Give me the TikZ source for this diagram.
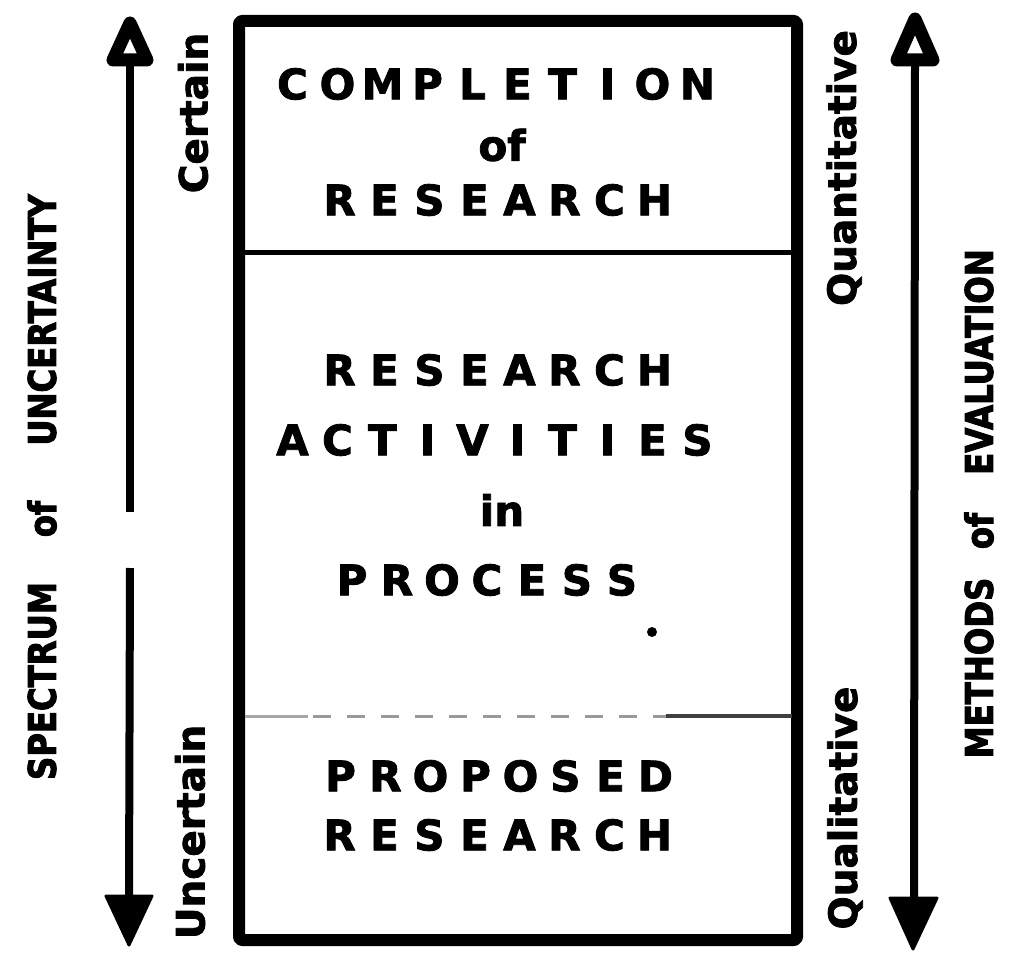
\documentclass[tikz,border=0pt]{standalone}
\usepackage{fontspec}
\setmainfont{DejaVu Sans}[BoldFeatures={FakeBold=2}]
\newfontfamily\condfont{DejaVu Sans}[FakeStretch=0.85,BoldFeatures={FakeBold=2.5}]
\newcommand\lb[1]{\makebox[45pt]{#1}}
\tikzset{
  maintext/.style={font=\fontsize{42}{50}\selectfont\bfseries, inner sep=0pt, anchor=center},
  sidelab/.style={font=\fontsize{39}{46}\selectfont\bfseries, rotate=90, inner sep=0pt, anchor=center},
  biglab/.style={font=\condfont\fontsize{38}{46}\selectfont\bfseries, rotate=90, inner sep=0pt, anchor=center},
  boxline/.style={line width=12pt, line join=round, rounded corners=3pt},
  shaft/.style={line width=8pt},
  openhead/.style={line width=13pt, line join=round, fill=white},
  solidhead/.style={line width=3pt, line join=round, fill=black},
}
\begin{document}
\begin{tikzpicture}[x=1pt,y=-1pt]
\useasboundingbox[fill=white] (0,0) rectangle (1014,965);
% main box
\draw[boxline] (239,21) rectangle (797,940);
\coordinate (dl1) at (245,253); \coordinate (dr1) at (792,253);
\draw[line width=5pt] (dl1) -- (dr1);
\coordinate (dl2) at (245,716); \coordinate (dr2) at (792,716);
\coordinate (dm2a) at (308,716); \coordinate (dm2b) at (666,716);
\draw[line width=3pt, gray!80, dash pattern=on 18pt off 16pt] (dl2) -- (dr2);
\draw[line width=3pt, gray!70] (dl2) -- (dm2a);
\draw[line width=3.5pt, black!75] (dm2b) -- (dr2);
% main texts
\node[maintext] (t1) at (495,84) {\lb{C}\lb{O}\lb{M}\lb{P}\lb{L}\lb{E}\lb{T}\lb{I}\lb{O}\lb{N}};
\node[maintext] (t2) at (502,145) {of};
\node[maintext] (t3) at (497,200) {\lb{R}\lb{E}\lb{S}\lb{E}\lb{A}\lb{R}\lb{C}\lb{H}};
\node[maintext] (m1) at (497,370) {\lb{R}\lb{E}\lb{S}\lb{E}\lb{A}\lb{R}\lb{C}\lb{H}};
\node[maintext] (m2) at (495,440) {\lb{A}\lb{C}\lb{T}\lb{I}\lb{V}\lb{I}\lb{T}\lb{I}\lb{E}\lb{S}};
\node[maintext] (m3) at (502,510) {in};
\node[maintext] (m4) at (487,580) {\lb{P}\lb{R}\lb{O}\lb{C}\lb{E}\lb{S}\lb{S}};
\fill (652,632) circle (5pt);
\node[maintext] (b1) at (498,776) {\lb{P}\lb{R}\lb{O}\lb{P}\lb{O}\lb{S}\lb{E}\lb{D}};
\node[maintext] (b2) at (497,835) {\lb{R}\lb{E}\lb{S}\lb{E}\lb{A}\lb{R}\lb{C}\lb{H}};
% side labels
\node[sidelab] (cert) at (193,113) {Certain};
\node[sidelab] (unc) at (190,832) {Uncertain};
\node[sidelab] (quan) at (844,168) {Quantitative};
\node[sidelab] (qual) at (845,808) {Qualitative};
% big labels
\node[biglab] (sp3) at (42,320) {UNCERTAINTY};
\node[biglab] (sp2) at (42,519) {of};
\node[biglab] (sp1) at (42,681) {SPECTRUM};
\node[biglab] (me3) at (979,362) {EVALUATION};
\node[biglab] (me2) at (979,531) {of};
\node[biglab] (me1) at (979,668) {METHODS};
% left arrow
\coordinate (lt) at (130,60); \coordinate (lg1) at (130,512);
\coordinate (lg2) at (130,568); \coordinate (lb) at (129,896);
\draw[shaft] (lt) -- (lg1);
\draw[shaft] (lg2) -- (lb);
\draw[openhead] (130,23) -- (113,60) -- (147,60) -- cycle;
\draw[solidhead] (106,896) -- (152,896) -- (129,945) -- cycle;
% right arrow
\coordinate (rt) at (915,60); \coordinate (rb) at (914,898);
\draw[shaft] (rt) -- (rb);
\draw[openhead] (915,19) -- (897,60) -- (933,60) -- cycle;
\draw[solidhead] (890,898) -- (937,898) -- (913,949) -- cycle;
\end{tikzpicture}
\end{document}
